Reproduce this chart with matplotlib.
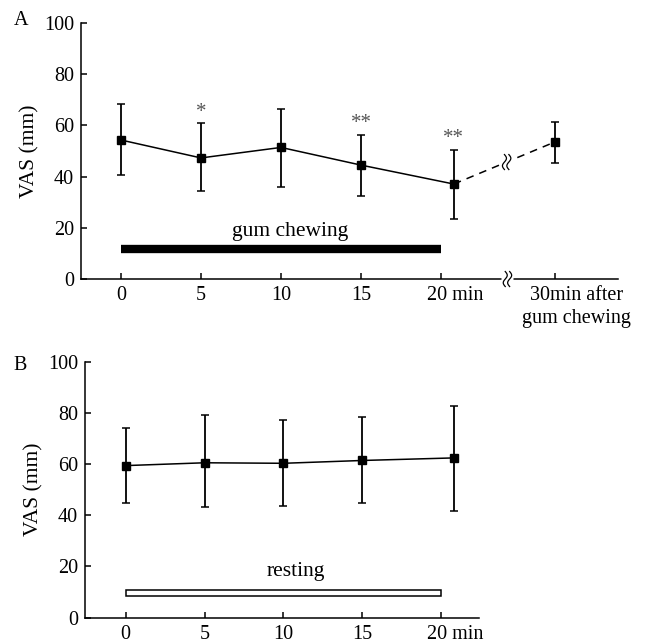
import matplotlib
matplotlib.use('Agg')
import matplotlib.pyplot as plt
import matplotlib.transforms as mtransforms
import numpy as np

plt.rcParams['font.family'] = 'Liberation Serif'
plt.rcParams['font.size'] = 14.5

# panel A: gum chewing
a_x = [0, 5, 10, 15, 20.8]
a_mean = [54.3, 47.3, 51.4, 44.5, 37.1]
a_top = [68.5, 60.8, 66.4, 56.4, 50.5]
a_bot = [40.7, 34.4, 36.0, 32.3, 23.4]
a_stars = ['', '*', '', '**', '**']
after_x = 27.1          # compressed position of "30 min after"
after_mean = 53.5
after_top = 61.2
after_bot = 45.2
break_x = 24.1

# panel B: resting
b_x = [0, 5, 10, 15, 20.8]
b_mean = [59.4, 60.5, 60.3, 61.4, 62.4]
b_top = [74.1, 79.2, 77.2, 78.4, 82.8]
b_bot = [44.9, 43.1, 43.8, 44.7, 41.7]

ticks = [0, 5, 10, 15, 20]
tick_labels = ['0', '5', '10', '15', '20 min']
yticks = [0, 20, 40, 60, 80, 100]

fig = plt.figure(figsize=(6.5, 6.41), dpi=100)
axA = fig.add_axes([0.1246, 0.5647, 0.8262, 0.3994])
axB = fig.add_axes([0.1308, 0.0364, 0.6062, 0.3994])


def style(ax):
    for s in ['top', 'right']:
        ax.spines[s].set_visible(False)
    for s in ['left', 'bottom']:
        ax.spines[s].set_linewidth(1.1)
    ax.tick_params(direction='in', length=4, width=1.1, pad=5)
    ax.set_ylim(0, 100)
    ax.set_yticks(yticks)
    ax.set_ylabel('VAS (mm)', labelpad=3, fontsize=15.5)


def errs(mean, top, bot):
    m = np.array(mean)
    return [m - np.array(bot), np.array(top) - m]


def break_mark(ax, x, y):
    t = np.linspace(-1, 1, 40)
    tr = fig.dpi_scale_trans + mtransforms.ScaledTranslation(x, y, ax.transData)
    ax.plot(0, 0, 's', ms=9, color='white', mec='none', transform=tr,
            clip_on=False, zorder=5)
    for dx in [-0.022, 0.022]:
        ax.plot(dx + 0.02 * np.sin(t * np.pi), t * 0.075, color='black', lw=0.9,
                transform=tr, clip_on=False, zorder=6)


# ---- A ----
style(axA)
axA.set_xlim(-2.5, 31.06)
axA.errorbar(a_x, a_mean, yerr=errs(a_mean, a_top, a_bot), color='black',
             marker='s', ms=5.5, lw=1.1, elinewidth=1.3, capsize=3, capthick=1.1)
axA.errorbar([after_x], [after_mean], yerr=errs([after_mean], [after_top], [after_bot]),
             color='black', marker='s', ms=5.5, elinewidth=1.3, capsize=3, capthick=1.1)
axA.plot([a_x[-1], after_x], [a_mean[-1], after_mean], color='black', lw=1.1,
         dashes=(5, 4))
for x, t, s in zip(a_x, a_top, a_stars):
    if s:
        axA.annotate(s, (x, t), xytext=(0, 1), textcoords='offset points',
                     ha='center', va='bottom', color='#555555', fontsize=15)
axA.plot([0, 20], [11.7, 11.7], color='black', lw=6, solid_capstyle='butt')
axA.text(10.6, 18.5, 'gum chewing', ha='center', va='center', fontsize=15.5)
axA.set_xticks(ticks + [after_x])
axA.set_xticklabels(tick_labels + ['30min after\ngum chewing'])
labs = axA.get_xticklabels()
labs[4].set_transform(labs[4].get_transform() +
                      mtransforms.ScaledTranslation(0.14, 0, fig.dpi_scale_trans))
labs[5].set_transform(labs[5].get_transform() +
                      mtransforms.ScaledTranslation(0.22, 0, fig.dpi_scale_trans))
labs[5].set_linespacing(1.3)
yline = a_mean[-1] + (after_mean - a_mean[-1]) * (break_x - a_x[-1]) / (after_x - a_x[-1])
break_mark(axA, break_x, yline)
break_mark(axA, break_x + 0.05, 0)
fig.text(0.032, 0.968, 'A', ha='center', va='center', fontsize=14.5)

# ---- B ----
style(axB)
axB.set_xlim(-2.58, 22.4)
axB.errorbar(b_x, b_mean, yerr=errs(b_mean, b_top, b_bot), color='black',
             marker='s', ms=5.5, lw=1.1, elinewidth=1.3, capsize=3, capthick=1.1)
axB.add_patch(plt.Rectangle((0, 8.4), 20, 2.4, facecolor='white',
                            edgecolor='black', lw=1.1))
axB.text(10.8, 18, 'resting', ha='center', va='center', fontsize=15.5)
axB.set_xticks(ticks)
axB.set_xticklabels(tick_labels)
lb = axB.get_xticklabels()[4]
lb.set_transform(lb.get_transform() +
                 mtransforms.ScaledTranslation(0.14, 0, fig.dpi_scale_trans))
fig.text(0.031, 0.43, 'B', ha='center', va='center', fontsize=14.5)

fig.savefig('out.png', dpi=100)
